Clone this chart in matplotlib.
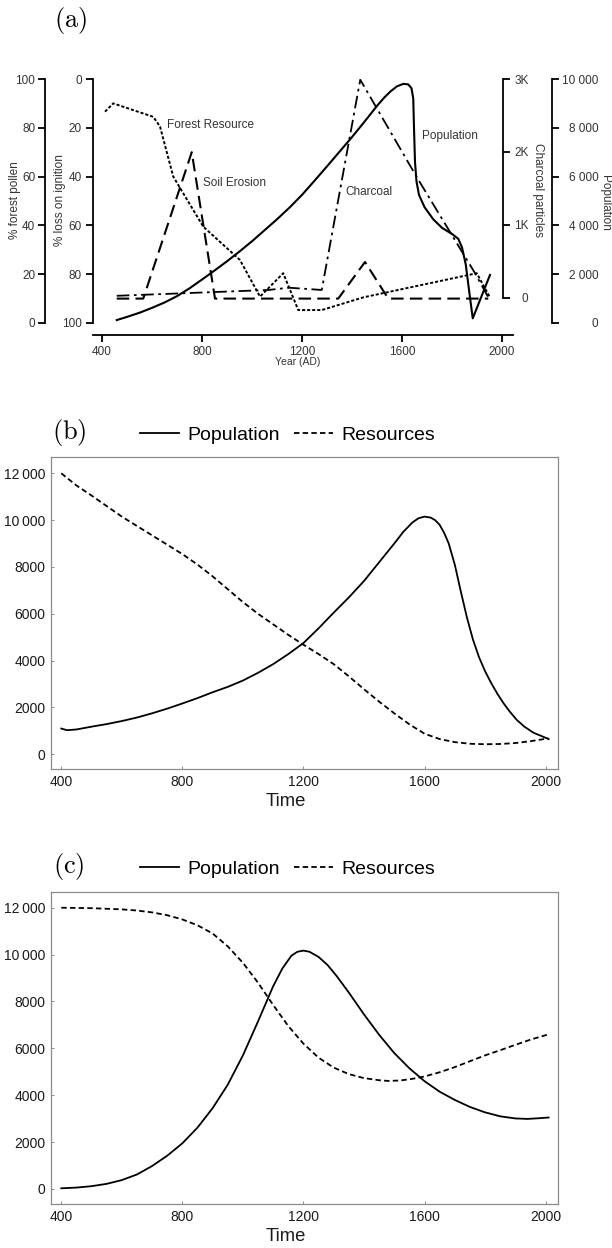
import matplotlib
matplotlib.use("Agg")
import matplotlib.pyplot as plt

plt.rcParams["font.family"] = ["Liberation Sans", "DejaVu Sans"]
plt.rcParams["mathtext.fontset"] = "cm"

# ---- panel (a): palaeo record ----
a_xticks = [400, 800, 1200, 1600, 2000]

forest_year = [412, 445, 605, 632, 685, 805, 952, 1032, 1125, 1185, 1279, 1445, 1899, 1952]
forest_pollen = [86.6, 90, 84.5, 80.5, 60, 39.5, 25.8, 10.8, 20.4, 5.3, 5.3, 10.5, 20.4, 10.5]

erosion_year = [459, 565, 759, 852, 1345, 1452, 1545, 1945]
erosion_loi = [90, 90, 30, 90, 90, 75, 90, 90]

charcoal_year = [459, 1067, 1147, 1279, 1433, 1660, 1892, 1945]
charcoal_count = [30, 110, 141, 110, 2990, 1650, 340, 10]

pop_year = [459, 500, 550, 600, 650, 700, 750, 800, 850, 900, 950, 1000, 1050, 1100,
            1150, 1200, 1250, 1300, 1350, 1400, 1450, 1500, 1530, 1555, 1580, 1605,
            1625, 1638, 1645, 1648, 1652, 1658, 1668, 1690, 1725, 1760, 1800, 1825,
            1840, 1855, 1870, 1883, 1952]
pop_count = [120, 250, 420, 620, 840, 1100, 1420, 1780, 2150, 2530, 2930, 3350, 3800,
             4250, 4730, 5250, 5830, 6420, 7020, 7620, 8250, 8900, 9250, 9500, 9700,
             9800, 9780, 9620, 9200, 8000, 6600, 5800, 5250, 4750, 4250, 3900, 3650,
             3450, 3100, 2400, 1200, 190, 1970]

pollen_ticks = [0, 20, 40, 60, 80, 100]
loi_ticks = [0, 20, 40, 60, 80, 100]
charcoal_ticks = [0, 1000, 2000, 3000]
charcoal_labels = ["0", "1K", "2K", "3K"]
popa_ticks = [0, 2000, 4000, 6000, 8000, 10000]
popa_labels = ["0", "2 000", "4 000", "6 000", "8 000", "10 000"]

# ---- panels (b) and (c): model runs ----
model_yticks = [0, 2000, 4000, 6000, 8000, 10000, 12000]
model_ylabels = ["0", "2000", "4000", "6000", "8000", "10\u2009000", "12\u2009000"]
model_xticks = [400, 800, 1200, 1600, 2000]

b_time = [400, 410, 420, 450, 500, 550, 600, 650, 700, 750, 800, 850, 900, 950, 1000,
          1050, 1100, 1150, 1200, 1250, 1300, 1350, 1400, 1450, 1500, 1530, 1560, 1580,
          1600, 1620, 1635, 1650, 1665, 1680, 1700, 1720, 1740, 1760, 1780, 1800, 1820,
          1840, 1860, 1880, 1905, 1930, 1960, 1990, 2010]
b_pop = [1100, 1060, 1030, 1060, 1180, 1290, 1420, 1570, 1750, 1950, 2170, 2400, 2650,
         2880, 3150, 3480, 3850, 4280, 4750, 5380, 6050, 6700, 7400, 8200, 9000, 9500,
         9900, 10080, 10150, 10110, 10000, 9800, 9450, 9000, 8100, 6950, 5850, 4900, 4150,
         3550, 3050, 2600, 2200, 1850, 1465, 1180, 920, 760, 650]
b_res_time = [400, 450, 500, 550, 600, 650, 700, 750, 800, 850, 900, 950, 1000, 1050,
              1100, 1150, 1200, 1250, 1300, 1350, 1400, 1450, 1500, 1550, 1600, 1650,
              1700, 1750, 1800, 1850, 1900, 1950, 2010]
b_res = [12000, 11480, 11050, 10600, 10150, 9750, 9350, 8950, 8550, 8100, 7600, 7050,
         6500, 6000, 5550, 5100, 4680, 4280, 3850, 3330, 2780, 2250, 1750, 1280, 880, 650,
         520, 450, 430, 440, 480, 560, 680]

c_time = [400, 450, 500, 550, 600, 650, 700, 750, 800, 850, 900, 950, 1000, 1050, 1100,
          1130, 1160, 1180, 1200, 1220, 1250, 1280, 1310, 1350, 1400, 1450, 1500, 1550,
          1600, 1650, 1700, 1750, 1800, 1850, 1900, 1940, 1980, 2010]
c_pop = [30, 60, 120, 220, 380, 620, 980, 1420, 1950, 2620, 3450, 4450, 5700, 7150, 8650,
         9400, 9950, 10120, 10170, 10120, 9900, 9550, 9080, 8380, 7450, 6580, 5800, 5150,
         4600, 4150, 3800, 3500, 3270, 3100, 3010, 2990, 3020, 3050]
c_res_time = [400, 500, 600, 650, 700, 750, 800, 850, 900, 950, 1000, 1050, 1100, 1150,
              1200, 1250, 1300, 1350, 1400, 1450, 1480, 1520, 1560, 1600, 1650, 1700, 1750,
              1800, 1850, 1900, 1950, 2010]
c_res = [12000, 11980, 11930, 11880, 11800, 11680, 11500, 11250, 10900, 10350, 9650, 8800,
         7850, 6950, 6200, 5600, 5180, 4900, 4730, 4640, 4610, 4630, 4700, 4800, 4980, 5200,
         5450, 5700, 5920, 6150, 6370, 6600]

W, H = 612, 1248
INK = "#333333"
fig = plt.figure(figsize=(W / 100, H / 100), dpi=100)


def rect(left, top, right, bottom):
    return [left / W, 1 - bottom / H, (right - left) / W, (bottom - top) / H]


# ------ panel (a) ------
a_rect = rect(93, 79, 513, 335)
ax = fig.add_axes(a_rect)
ax.patch.set_visible(False)
ax.set_xlim(364, 2044)
for s in ("top", "left", "right"):
    ax.spines[s].set_visible(False)
ax.spines["bottom"].set_linewidth(1.3)
ax.set_yticks([])
ax.set_xticks(a_xticks)
ax.tick_params(axis="x", length=5, width=1.3, labelsize=8.5, labelcolor=INK, pad=3)


def overlay(side, pos, ylim, bounds, ticks, labels, pad, ha=None):
    o = fig.add_axes(a_rect)
    o.patch.set_visible(False)
    o.set_xlim(ax.get_xlim())
    o.xaxis.set_visible(False)
    for s in o.spines.values():
        s.set_visible(False)
    sp = o.spines[side]
    sp.set_visible(True)
    sp.set_position(("axes", pos))
    sp.set_linewidth(1.3)
    o.set_ylim(ylim)
    sp.set_bounds(*bounds)
    o.yaxis.set_ticks_position(side)
    o.set_yticks(ticks, labels)
    o.tick_params(axis="y", length=5, width=1.3, labelsize=8.5, labelcolor=INK, pad=pad)
    if ha:
        for t in o.get_yticklabels():
            t.set_horizontalalignment(ha)
    return o


ax_pollen = overlay("left", -0.114, (-4.92, 100), (0, 100), pollen_ticks,
                    [str(v) for v in pollen_ticks], 2)
ax_loi = overlay("left", 0.0, (104.92, 0), (0, 100), loi_ticks,
                 [str(v) for v in loi_ticks], 3)
ax_char = overlay("right", 0.976, (-507, 3000), (0, 3000), charcoal_ticks,
                  charcoal_labels, 13.5, ha="right")
ax_popa = overlay("right", 1.093, (-492, 10000), (0, 10000), popa_ticks,
                  popa_labels, 28.5, ha="right")

ax_pollen.plot(forest_year, forest_pollen, color="k", lw=1.4, ls=(0, (1.6, 1.0)))
ax_loi.plot(erosion_year, erosion_loi, color="k", lw=1.5, ls=(0, (6, 3)))
ax_char.plot(charcoal_year, charcoal_count, color="k", lw=1.3, ls=(0, (7, 2.5, 1.5, 2.5)))
ax_popa.plot(pop_year, pop_count, color="k", lw=1.5)

fig.text(15 / W, 1 - 200 / H, "% forest pollen", rotation=90, ha="center", va="center",
         fontsize=8.5, color=INK)
fig.text(60 / W, 1 - 200 / H, "% loss on ignition", rotation=90, ha="center", va="center",
         fontsize=8.5, color=INK)
fig.text(538 / W, 1 - 190 / H, "Charcoal particles", rotation=270, ha="center", va="center",
         fontsize=8.5, color=INK)
fig.text(605 / W, 1 - 203 / H, "Population", rotation=270, ha="center", va="center",
         fontsize=8.5, color=INK)
fig.text(298 / W, 1 - 362 / H, "Year (AD)", ha="center", va="center", fontsize=7.5, color=INK)

fig.text(167 / W, 1 - 125 / H, "Forest Resource", va="center", fontsize=8.5, color=INK)
fig.text(203 / W, 1 - 183 / H, "Soil Erosion", va="center", fontsize=8.5, color=INK)
fig.text(345 / W, 1 - 192 / H, "Charcoal", va="center", fontsize=8.5, color=INK)
fig.text(422 / W, 1 - 136 / H, "Population", va="center", fontsize=8.5, color=INK)

fig.text(71 / W, 1 - 21 / H, r"$\mathrm{(a)}$", ha="center", va="center", fontsize=19)


# ------ panels (b), (c) ------
def model_panel(top, bottom, ylim, t_pop, pop, t_res, res, tag, legend_y):
    m = fig.add_axes(rect(50.7, top, 558, bottom))
    m.set_xlim(365, 2041)
    m.set_ylim(*ylim)
    for s in m.spines.values():
        s.set_color("#8c8c8c")
        s.set_linewidth(0.9)
    m.set_xticks(model_xticks)
    m.set_yticks(model_yticks, model_ylabels)
    m.tick_params(direction="in", length=2.5, width=0.7, color="#8c8c8c",
                  labelsize=10, labelcolor="#1a1a1a", pad=4)
    l1, = m.plot(t_pop, pop, color="k", lw=1.3)
    l2, = m.plot(t_res, res, color="k", lw=1.3, ls=(0, (3, 1.8)))
    fig.legend([l1, l2], ["Population", "Resources"], loc="center left",
               bbox_to_anchor=(140 / W, 1 - legend_y / H), ncol=2, frameon=False,
               fontsize=14, handlelength=2.0, handletextpad=0.45, columnspacing=0.7,
               borderpad=0, borderaxespad=0)
    fig.text(285.6 / W, 1 - (bottom + 32) / H, "Time", ha="center", va="center",
             fontsize=13.3, color="#1a1a1a")
    fig.text(69 / W, 1 - (legend_y - 3) / H, r"$\mathrm{(%s)}$" % tag, ha="center",
             va="center", fontsize=19)
    return m


model_panel(457, 769, (-628, 12696), b_time, b_pop, b_res_time, b_res, "b", 435)
model_panel(891.7, 1204.3, (-653, 12683), c_time, c_pop, c_res_time, c_res, "c", 869)

fig.savefig("out.png", dpi=100)
